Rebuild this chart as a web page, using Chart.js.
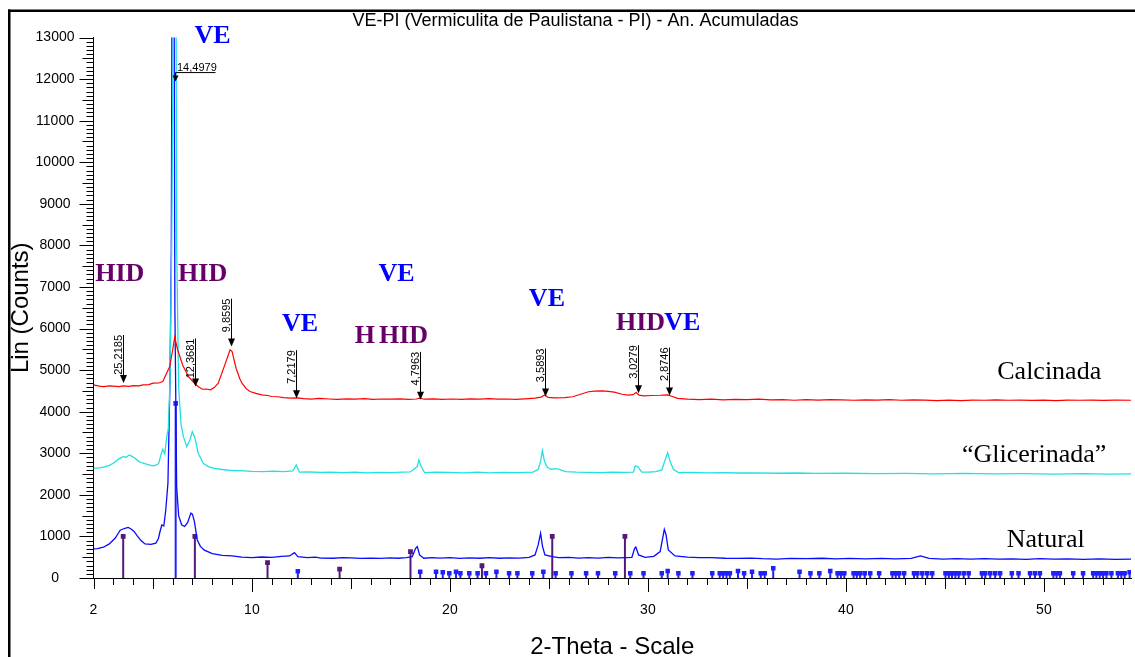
<!DOCTYPE html>
<html>
<head>
<meta charset="utf-8">
<script src="https://cdn.jsdelivr.net/npm/chart.js@4.4.0/dist/chart.umd.min.js"></script>
<style>
  html, body { margin: 0; padding: 0; background: #fff; overflow: hidden; }
  canvas { display: block; }
</style>
</head>
<body>
<canvas id="chart" width="1135" height="657"></canvas>
<script>
// 2-theta (deg) / counts pairs for each sample
const calcinada = [
  [2.0, 4645], [2.3, 4615], [2.5, 4605], [2.8, 4620], [3.0, 4615], [3.3, 4605], [3.5, 4620], [3.8, 4610],
  [4.0, 4625], [4.3, 4620], [4.5, 4645], [4.8, 4650], [5.0, 4685], [5.3, 4690], [5.5, 4725], [5.7, 4930],
  [5.85, 5085], [6.0, 5490], [6.1, 5795], [6.25, 5490], [6.5, 5125], [6.8, 4845], [7.1, 4685], [7.3, 4600],
  [7.5, 4540], [7.7, 4545], [7.9, 4525], [8.1, 4580], [8.3, 4685], [8.6, 5085], [8.9, 5490], [9.0, 5445],
  [9.2, 5045], [9.4, 4780], [9.5, 4685], [9.7, 4560], [9.9, 4485], [10.2, 4440], [10.5, 4405], [10.8, 4390],
  [11.0, 4365], [11.3, 4360], [11.6, 4340], [12.0, 4325], [12.3, 4330], [12.6, 4315], [13.0, 4300],
  [13.4, 4320], [13.9, 4305], [14.3, 4295], [14.8, 4310], [15.2, 4300], [15.7, 4315], [16.1, 4295],
  [16.6, 4305], [17.0, 4300], [17.5, 4310], [17.9, 4295], [18.3, 4305], [18.48, 4325], [18.7, 4300],
  [19.2, 4310], [19.6, 4295], [20.1, 4305], [20.6, 4295], [21.0, 4310], [21.5, 4300], [22.0, 4315],
  [22.4, 4300], [22.9, 4305], [23.3, 4295], [23.8, 4310], [24.3, 4325], [24.6, 4350], [24.79, 4400],
  [24.95, 4345], [25.3, 4330], [25.8, 4340], [26.2, 4360], [26.6, 4420], [27.0, 4480], [27.3, 4495],
  [27.7, 4500], [28.0, 4490], [28.3, 4470], [28.7, 4420], [29.0, 4400], [29.25, 4410], [29.4, 4460],
  [29.55, 4400], [29.8, 4380], [30.2, 4390], [30.6, 4395], [31.0, 4405], [31.2, 4370], [31.5, 4320],
  [32.0, 4300], [32.6, 4290], [33.2, 4300], [33.8, 4285], [34.4, 4295], [35.0, 4290], [35.6, 4300],
  [36.2, 4285], [36.8, 4290], [37.4, 4275], [38.0, 4290], [38.6, 4280], [39.2, 4290], [39.8, 4285],
  [40.4, 4275], [41.0, 4285], [41.6, 4280], [42.2, 4290], [42.8, 4275], [43.4, 4285], [44.0, 4280],
  [44.6, 4265], [45.2, 4280], [45.8, 4265], [46.4, 4280], [47.0, 4275], [47.6, 4285], [48.2, 4275],
  [48.8, 4280], [49.4, 4270], [50.0, 4280], [50.6, 4265], [51.2, 4280], [51.8, 4275], [52.4, 4280],
  [53.0, 4270], [53.6, 4280], [54.4, 4275]
];

const glicerinada = [
  [2.0, 2640], [2.3, 2650], [2.5, 2665], [2.8, 2710], [3.0, 2760], [3.3, 2870], [3.5, 2920], [3.65, 2905],
  [3.8, 2960], [3.95, 2925], [4.1, 2880], [4.3, 2800], [4.5, 2760], [4.8, 2720], [5.0, 2695], [5.2, 2720],
  [5.3, 2760], [5.4, 2960], [5.5, 3095], [5.6, 2985], [5.7, 3400], [5.78, 3600], [5.86, 4700], [5.95, 8000],
  [6.04, 14000], [6.12, 24000], [6.2, 8000], [6.3, 4600], [6.42, 3700], [6.54, 3400], [6.71, 3160],
  [6.87, 3320], [6.99, 3520], [7.13, 3360], [7.29, 3000], [7.54, 2760], [7.8, 2680], [8.05, 2640],
  [8.5, 2610], [9.05, 2585], [9.6, 2575], [10.0, 2565], [10.56, 2560], [11.1, 2570], [11.6, 2560],
  [12.07, 2575], [12.24, 2720], [12.4, 2545], [12.9, 2550], [13.5, 2540], [14.0, 2545], [14.6, 2535],
  [15.2, 2545], [15.8, 2530], [16.4, 2540], [17.0, 2535], [17.6, 2545], [18.0, 2550], [18.35, 2680],
  [18.43, 2840], [18.55, 2680], [18.72, 2535], [19.3, 2545], [20.0, 2540], [20.7, 2530], [21.4, 2545],
  [22.0, 2530], [22.7, 2540], [23.4, 2535], [24.2, 2545], [24.46, 2615], [24.58, 2800], [24.67, 3065],
  [24.78, 2800], [24.92, 2665], [25.1, 2615], [25.3, 2630], [25.5, 2620], [25.84, 2560], [26.4, 2545],
  [27.0, 2540], [27.6, 2535], [28.2, 2545], [28.8, 2540], [29.27, 2545], [29.36, 2695], [29.49, 2680],
  [29.69, 2545], [30.1, 2550], [30.4, 2560], [30.7, 2600], [30.9, 2880], [31.0, 3015], [31.12, 2800],
  [31.29, 2615], [31.54, 2535], [32.2, 2540], [33.0, 2530], [33.8, 2535], [34.6, 2525], [35.4, 2530],
  [36.57, 2520], [37.5, 2525], [38.5, 2515], [40.0, 2520], [41.5, 2510], [43.0, 2515], [44.5, 2505],
  [46.0, 2515], [47.5, 2505], [49.0, 2510], [50.5, 2500], [52.0, 2510], [53.2, 2500], [54.4, 2505]
];

const natural = [
  [2.0, 700], [2.2, 705], [2.5, 740], [2.8, 820], [3.1, 960], [3.35, 1150], [3.55, 1190], [3.75, 1215],
  [3.9, 1180], [4.05, 1120], [4.2, 1020], [4.4, 900], [4.6, 820], [4.9, 810], [5.15, 840], [5.28, 950],
  [5.35, 1100], [5.45, 1275], [5.55, 1250], [5.65, 1635], [5.76, 2285], [5.86, 4690], [5.93, 7900],
  [6.02, 24000], [6.11, 6500], [6.2, 2200], [6.3, 1500], [6.45, 1280], [6.6, 1240], [6.75, 1330],
  [6.92, 1560], [7.0, 1530], [7.1, 1350], [7.24, 915], [7.4, 760], [7.6, 670], [8.0, 585], [8.5, 545],
  [9.0, 530], [9.5, 500], [10.0, 490], [10.5, 505], [11.0, 495], [11.5, 520], [11.9, 530], [12.15, 610],
  [12.32, 515], [12.8, 490], [13.2, 500], [13.5, 480], [14.1, 475], [14.6, 490], [15.0, 485], [15.5, 470],
  [16.0, 480], [16.5, 470], [17.0, 485], [17.4, 475], [17.8, 490], [18.1, 515], [18.27, 715], [18.35, 755],
  [18.47, 555], [18.68, 475], [19.1, 490], [19.5, 480], [20.0, 490], [20.5, 470], [21.0, 485], [21.5, 475],
  [22.0, 490], [22.5, 475], [23.0, 485], [23.5, 480], [24.0, 495], [24.3, 555], [24.46, 795], [24.58, 1075],
  [24.68, 755], [24.8, 555], [25.17, 515], [25.5, 490], [26.0, 495], [26.5, 480], [27.0, 490], [27.5, 480],
  [28.0, 495], [28.5, 485], [29.19, 495], [29.33, 715], [29.39, 745], [29.53, 555], [29.86, 495], [30.3, 520],
  [30.62, 635], [30.73, 915], [30.83, 1170], [30.92, 1035], [31.03, 675], [31.37, 530], [32.0, 500],
  [32.6, 490], [33.2, 490], [33.9, 475], [34.5, 470], [35.2, 480], [35.8, 465], [36.5, 455], [37.2, 470],
  [38.0, 465], [38.8, 475], [39.5, 460], [40.2, 470], [41.0, 460], [41.8, 470], [42.5, 460], [43.3, 470],
  [43.77, 530], [44.2, 470], [44.9, 455], [45.6, 465], [46.3, 455], [47.0, 465], [47.7, 455], [48.4, 460],
  [49.1, 450], [49.8, 465], [50.5, 455], [51.2, 460], [52.0, 450], [52.8, 460], [53.6, 450], [54.4, 455]
];

// reference pattern lines (2-theta, relative height in counts)
const hidLines = [
  [3.5, 1000], [7.12, 1000], [10.79, 370], [14.43, 215], [18.01, 635], [21.62, 295], [25.17, 1000], [28.84, 1000]
];

const veLines = [
  [6.15, 4200], [12.32, 160], [18.50, 150], [19.30, 150], [19.64, 140], [19.97, 115], [20.31, 150],
  [20.53, 115], [20.98, 115], [21.40, 115], [21.82, 115], [22.35, 150], [22.99, 115], [23.41, 115],
  [24.16, 115], [24.72, 150], [25.34, 115], [26.14, 115], [26.88, 115], [27.48, 115], [28.35, 115],
  [29.11, 115], [29.78, 115], [30.70, 115], [31.00, 170], [31.54, 115], [32.25, 115], [33.25, 115],
  [33.63, 115], [33.80, 115], [33.97, 115], [34.14, 115], [34.55, 170], [34.86, 115], [35.26, 150],
  [35.70, 115], [35.90, 115], [36.33, 235], [37.66, 150], [38.21, 115], [38.66, 115], [39.21, 170],
  [39.58, 115], [39.75, 115], [39.92, 115], [40.39, 115], [40.55, 115], [40.72, 115], [40.95, 115],
  [41.23, 115], [41.68, 115], [42.35, 115], [42.52, 115], [42.69, 115], [42.94, 115], [43.44, 115],
  [43.61, 115], [43.86, 115], [44.11, 115], [44.36, 115], [45.03, 115], [45.20, 115], [45.36, 115],
  [45.53, 115], [45.70, 115], [45.95, 115], [46.20, 115], [46.87, 115], [47.04, 115], [47.29, 115],
  [47.54, 115], [47.79, 115], [48.38, 115], [48.72, 115], [49.30, 115], [49.55, 115], [49.80, 115],
  [50.48, 115], [50.64, 115], [50.81, 115], [51.48, 115], [51.98, 115], [52.49, 115], [52.65, 115],
  [52.82, 115], [52.99, 115], [53.16, 115], [53.41, 115], [53.74, 115], [53.91, 115], [54.08, 115],
  [54.33, 140]
];

// d-spacings (Å) marked on the calcined pattern, and the counts where each arrow ends
const peakD    = [25.2185, 12.3681, 9.8595, 7.2179, 4.7963, 3.5893, 3.0279, 2.8746];
const peakTips = [4690, 4605, 5565, 4325, 4285, 4365, 4445, 4390];
const mainPeakD   = 14.4979;
const mainPeakTip = 11940;

// phase tags: text, 2-theta, counts, phase
const phaseTags = [
  ['VE', 8.01, 13035, 'VE'],
  ['HID', 3.33, 7300, 'HID'],
  ['HID', 7.51, 7300, 'HID'],
  ['VE', 12.43, 6109, 'VE'],
  ['H', 15.70, 5820, 'HID'],
  ['HID', 17.66, 5820, 'HID'],
  ['VE', 17.31, 7311, 'VE'],
  ['VE', 24.90, 6710, 'VE'],
  ['HID', 29.63, 6133, 'HID'],
  ['VE', 31.74, 6133, 'VE']
];

// curve names: text, 2-theta, counts
const curveNames = [
  ['Calcinada', 50.27, 4954],
  ['\u201CGlicerinada\u201D', 49.51, 2958],
  ['Natural', 50.09, 914]
];

const LAMBDA = 1.5406; // Cu K-alpha
const braggTheta = d => 2 * Math.asin(LAMBDA / (2 * d)) * 180 / Math.PI;

const SANS  = '"Liberation Sans", Arial, sans-serif';
const SERIF = '"Liberation Serif", "Times New Roman", serif';
const phaseColor = { VE: '#0000ff', HID: '#660066' };

const toPoints = rows => rows.map(([x, y]) => ({ x, y }));

const overlay = {
  id: 'overlay',
  beforeDraw(chart) {
    const c = chart.ctx;
    c.save();
    c.fillStyle = '#fff';
    c.fillRect(0, 0, chart.width, chart.height);
    c.restore();
  },
  beforeDatasetsDraw(chart) {
    const c = chart.ctx;
    const y0 = chart.scales.y.getPixelForValue(0);
    c.save();
    chart.data.datasets.forEach((ds, i) => {
      if (!ds.stem) return;
      c.strokeStyle = ds.pointBackgroundColor;
      c.lineWidth = ds.stem;
      chart.getDatasetMeta(i).data.forEach(pt => {
        c.beginPath();
        c.moveTo(pt.x, pt.y);
        c.lineTo(pt.x, y0);
        c.stroke();
      });
    });
    c.restore();
  },
  afterDraw(chart) {
    const c = chart.ctx;
    const xs = chart.scales.x, ys = chart.scales.y;
    const axisY = ys.getPixelForValue(0);
    const axisX = xs.getPixelForValue(xs.min);
    c.save();

    // outer frame: only the left and top edges fall inside the canvas
    c.fillStyle = '#000';
    c.fillRect(8, 9.5, 2.5, chart.height);
    c.fillRect(8, 9.5, chart.width, 2.5);

    c.strokeStyle = '#000';
    c.lineWidth = 1;

    // x tick marks, every degree
    for (let v = 2; v <= Math.floor(xs.max); v++) {
      const px = Math.round(xs.getPixelForValue(v)) + 0.5;
      const len = v % 10 === 0 ? 14 : (v % 5 === 0 || v === 2) ? 11 : 7;
      c.beginPath();
      c.moveTo(px, axisY);
      c.lineTo(px, axisY + len);
      c.stroke();
    }
    // y tick marks, every 100 counts
    for (let v = 0; v <= ys.max; v += 100) {
      const py = Math.round(ys.getPixelForValue(v)) + 0.5;
      const len = v % 1000 === 0 ? 14 : v % 500 === 0 ? 11 : 7;
      c.beginPath();
      c.moveTo(axisX, py);
      c.lineTo(axisX - len, py);
      c.stroke();
    }

    // d-spacing arrows
    c.font = '11px ' + SANS;
    peakD.forEach((d, i) => {
      const x = Math.round(xs.getPixelForValue(braggTheta(d))) + 0.5;
      const tip = ys.getPixelForValue(peakTips[i]);
      const top = tip - 48;
      c.beginPath();
      c.moveTo(x, top);
      c.lineTo(x, tip - 6);
      c.stroke();
      c.beginPath();
      c.moveTo(x - 3.5, tip - 8);
      c.lineTo(x + 3.5, tip - 8);
      c.lineTo(x, tip);
      c.closePath();
      c.fill();
      c.save();
      c.translate(x - 1.5, top);
      c.rotate(-Math.PI / 2);
      c.textAlign = 'right';
      c.textBaseline = 'alphabetic';
      c.fillText(d.toFixed(4).replace('.', ','), 0, 0);
      c.restore();
    });

    // main reflection runs off scale: short arrow with horizontal label
    const mx = Math.round(xs.getPixelForValue(braggTheta(mainPeakD))) + 0.5;
    const mtip = ys.getPixelForValue(mainPeakTip);
    c.beginPath();
    c.moveTo(mx, mtip - 9);
    c.lineTo(mx + 40, mtip - 9);
    c.moveTo(mx, mtip - 9);
    c.lineTo(mx, mtip - 4);
    c.stroke();
    c.beginPath();
    c.moveTo(mx - 3, mtip - 6);
    c.lineTo(mx + 3, mtip - 6);
    c.lineTo(mx, mtip);
    c.closePath();
    c.fill();
    c.textAlign = 'left';
    c.textBaseline = 'alphabetic';
    c.fillText(mainPeakD.toFixed(4).replace('.', ','), mx + 1.5, mtip - 11);

    // phase tags
    c.font = 'bold 26px ' + SERIF;
    c.textAlign = 'center';
    c.textBaseline = 'middle';
    phaseTags.forEach(([text, t, v, phase]) => {
      c.fillStyle = phaseColor[phase];
      c.fillText(text, xs.getPixelForValue(t), ys.getPixelForValue(v));
    });

    // sample names
    c.font = '26px ' + SERIF;
    c.fillStyle = '#000';
    curveNames.forEach(([text, t, v]) => {
      c.fillText(text, xs.getPixelForValue(t), ys.getPixelForValue(v));
    });
    c.restore();
  }
};

Chart.defaults.color = '#000';

const ctx = document.getElementById('chart').getContext('2d');
const chart = new Chart(ctx, {
  type: 'line',
  data: {
    datasets: [
      { label: 'Calcinada', data: toPoints(calcinada), borderColor: '#ff0000', borderWidth: 1.2, pointRadius: 0 },
      { label: 'Glicerinada', data: toPoints(glicerinada), borderColor: '#22e0e0', borderWidth: 1.3, pointRadius: 0 },
      { label: 'Natural', data: toPoints(natural), borderColor: '#0a0aff', borderWidth: 1.3, pointRadius: 0 },
      {
        label: 'HID', data: toPoints(hidLines), showLine: false, pointStyle: 'rect',
        pointRadius: 3.4, pointBorderWidth: 0, pointBackgroundColor: '#551a77', stem: 2
      },
      {
        label: 'VE', data: toPoints(veLines), showLine: false, pointStyle: 'rect',
        pointRadius: 3.2, pointBorderWidth: 0, pointBackgroundColor: '#2020ff', stem: 2
      }
    ]
  },
  options: {
    responsive: false,
    animation: false,
    events: [],
    layout: { padding: { left: 16, right: 0, top: 0, bottom: 0 } },
    elements: { line: { tension: 0 } },
    plugins: {
      legend: { display: false },
      tooltip: { enabled: false },
      title: {
        display: true,
        text: 'VE-PI (Vermiculita de Paulistana - PI) - An. Acumuladas',
        color: '#000',
        font: { family: SANS, size: 18, weight: 'normal' },
        padding: { top: 10.2, bottom: 5.7 }
      }
    },
    scales: {
      x: {
        type: 'linear',
        min: 2,
        max: 54.4,
        grid: { display: false, drawTicks: true, tickLength: 12 },
        border: { display: true, color: '#000', width: 1 },
        ticks: {
          stepSize: 1,
          includeBounds: false,
          autoSkip: false,
          maxRotation: 0,
          padding: 11.6,
          color: '#000',
          font: { family: SANS, size: 14 },
          callback: v => (v === 2 || v % 10 === 0) ? String(v) : ''
        },
        title: {
          display: true,
          text: '2-Theta - Scale',
          color: '#000',
          font: { family: SANS, size: 24, lineHeight: 1 },
          padding: { top: 0, bottom: -2 }
        },
        afterFit: s => { s.height = 79; }
      },
      y: {
        min: 0,
        max: 13000,
        grid: { display: false, drawTicks: true, tickLength: 14 },
        border: { display: true, color: '#000', width: 1 },
        ticks: {
          stepSize: 1000,
          padding: 5,
          crossAlign: 'center',
          color: '#000',
          font: { family: SANS, size: 14 },
          callback: v => String(v)
        },
        title: {
          display: true,
          text: 'Lin (Counts)',
          color: '#000',
          font: { family: SANS, size: 24, lineHeight: 1 },
          padding: { top: -7, bottom: 0 }
        },
        afterFit: s => { s.width = 77.5; }
      }
    }
  },
  plugins: [overlay]
});
</script>
</body>
</html>
